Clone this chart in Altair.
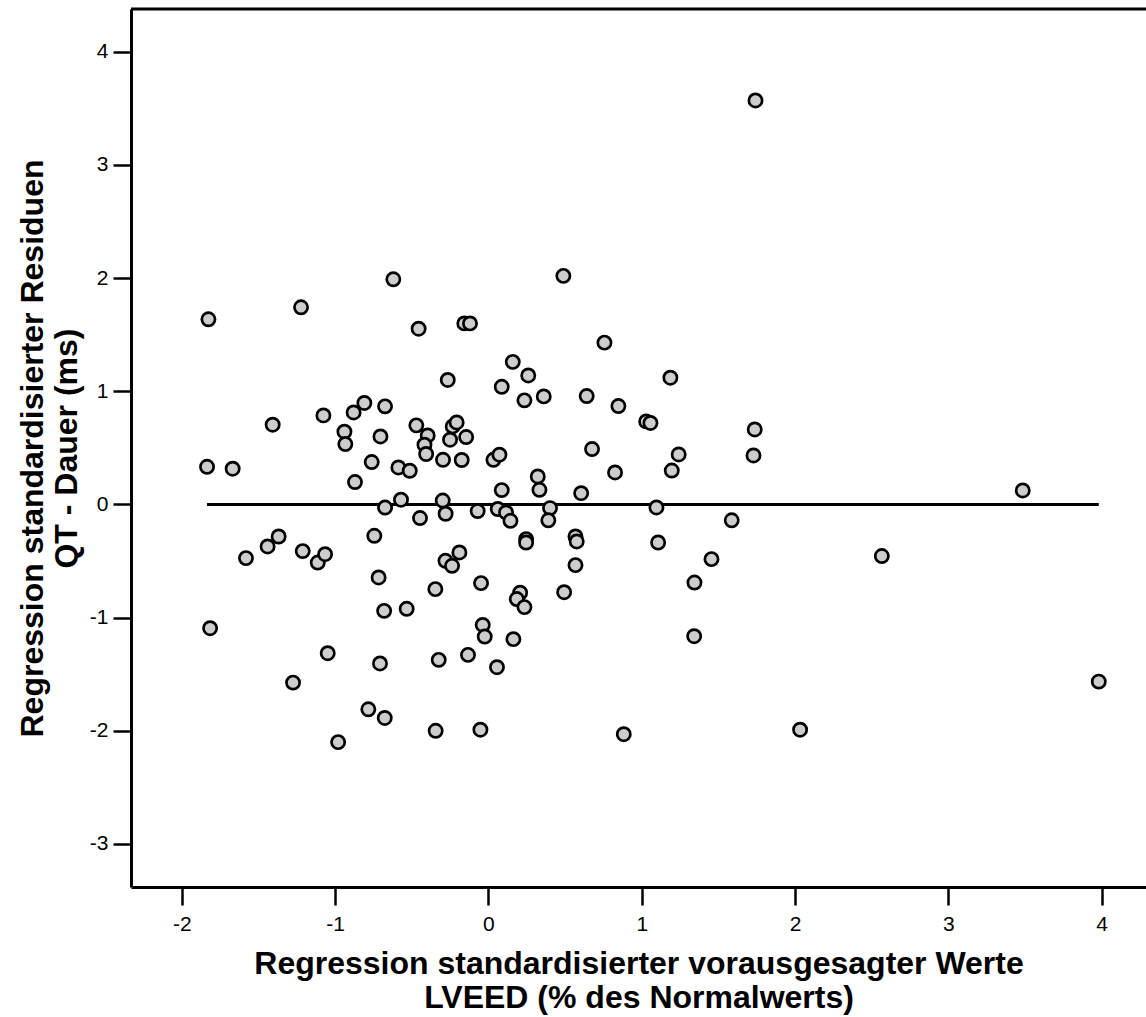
import altair as alt
import pandas as pd

# Standardized predicted values (x) and standardized residuals (y)
predicted = [
    1.742, 0.489, -0.620, -1.222, -1.826, -0.455, -0.157, -0.120, 0.757, 0.159,
    0.260, 1.187, -0.265, 0.087, 0.235, 0.361, 0.641, 0.848, 1.029, 1.057,
    1.737, 1.729, 1.241, 1.196, 0.676, 0.826, 0.322, 0.333, 0.605, 0.402,
    1.096, 0.391, 1.587, 0.246, 0.246, 0.568, 0.576, 1.107, 2.566, 0.568,
    1.455, 1.344, 3.485, 0.207, 0.185, 0.235, 0.494, 0.163, 1.342, 0.056,
    0.883, 2.033, 3.981, -1.581, -1.113, -1.065, -0.280, -0.237, -0.189, -0.716,
    -0.346, -0.048, -0.680, -0.533, -1.815, -0.037, -0.024, -1.048, -0.324, -0.133,
    -0.707, -1.274, -0.783, -0.676, -0.980, -0.344, -0.052, -0.809, -0.879, -0.674,
    -1.076, -1.407, -0.470, -0.233, -0.207, -0.939, -0.933, -0.704, -0.396, -0.417,
    -0.406, -0.250, -0.145, -0.761, -0.587, -0.513, -0.296, -0.174, 0.033, 0.072,
    -1.835, -1.668, -0.870, 0.087, -0.570, -0.298, -0.674, -0.279, -0.070, 0.061,
    0.115, 0.144, -0.446, -0.744, -1.368, -1.440, -1.211,
]
residual = [
    3.570, 2.020, 1.990, 1.742, 1.636, 1.553, 1.600, 1.600, 1.430, 1.260,
    1.140, 1.120, 1.100, 1.040, 0.920, 0.955, 0.958, 0.870, 0.734, 0.720,
    0.663, 0.433, 0.442, 0.300, 0.490, 0.283, 0.248, 0.130, 0.100, -0.032,
    -0.026, -0.140, -0.140, -0.306, -0.336, -0.283, -0.327, -0.336, -0.456, -0.536,
    -0.483, -0.690, 0.124, -0.780, -0.836, -0.907, -0.775, -1.190, -1.164, -1.438,
    -2.030, -1.990, -1.565, -0.474, -0.513, -0.439, -0.498, -0.542, -0.424, -0.645,
    -0.748, -0.695, -0.940, -0.922, -1.093, -1.064, -1.167, -1.314, -1.373, -1.329,
    -1.405, -1.574, -1.810, -1.886, -2.100, -2.000, -1.990, 0.897, 0.813, 0.867,
    0.787, 0.705, 0.699, 0.690, 0.725, 0.643, 0.534, 0.601, 0.610, 0.528,
    0.446, 0.572, 0.596, 0.375, 0.327, 0.298, 0.395, 0.393, 0.395, 0.440,
    0.333, 0.316, 0.198, 0.127, 0.042, 0.035, -0.027, -0.082, -0.058, -0.040,
    -0.070, -0.144, -0.120, -0.277, -0.283, -0.371, -0.412,
]
x_ticks = [-2, -1, 0, 1, 2, 3, 4]
y_ticks = [-3, -2, -1, 0, 1, 2, 3, 4]
x_title = ["Regression standardisierter vorausgesagter Werte", "LVEED (% des Normalwerts)"]
y_title = ["Regression standardisierter Residuen", "QT - Dauer (ms)"]

df = pd.DataFrame({"pred": predicted, "resid": residual})

W, H = 1015, 878
FONT = "Liberation Sans, Arial, Helvetica, sans-serif"

xscale = alt.Scale(domain=[-2.331, 4.289], nice=False, zero=False)
yscale = alt.Scale(domain=[-3.38, 4.378], nice=False, zero=False)

x_axis = alt.Axis(values=x_ticks, title=x_title, labelPadding=8, titlePadding=14,
                  labelExpr="datum.value + ''")
y_axis = alt.Axis(values=y_ticks, title=y_title, labelPadding=5, titlePadding=6,
                  labelExpr="datum.value + ''")

zero_line = (
    alt.Chart(df)
    .transform_aggregate(xmin="min(pred)", xmax="max(pred)")
    .transform_calculate(zero="0")
    .mark_rule(color="black", strokeWidth=3)
    .encode(
        x=alt.X("xmin:Q", scale=xscale, axis=x_axis),
        x2="xmax:Q",
        y=alt.Y("zero:Q", scale=yscale, axis=y_axis),
    )
)

points = (
    alt.Chart(df)
    .mark_circle(color="#cdcdcd", stroke="black", strokeWidth=2.7, size=175, opacity=1)
    .encode(
        x=alt.X("pred:Q", scale=xscale, axis=x_axis),
        y=alt.Y("resid:Q", scale=yscale, axis=y_axis),
    )
)

top_border = (
    alt.Chart(pd.DataFrame({"k": [0]}))
    .mark_rule(color="black", strokeWidth=3)
    .encode(x=alt.value(0), x2=alt.value(W), y=alt.value(0))
)

chart = (
    alt.layer(zero_line, points, top_border)
    .properties(
        width=W,
        height=H,
        autosize=alt.AutoSizeParams(type="none"),
        padding={"left": 131, "top": 9, "right": 0, "bottom": 1017 - 9 - H},
        background="white",
    )
    .configure_view(strokeWidth=0)
    .configure_axis(
        grid=False,
        domainColor="black",
        domainWidth=3,
        tickColor="black",
        tickWidth=2.5,
        tickSize=18,
        labelFont=FONT,
        labelFontSize=21,
        labelColor="black",
        titleFont=FONT,
        titleFontSize=32,
        titleFontWeight="bold",
        titleColor="black",
        titleLineHeight=34,
    )
)

chart.save("out.html", embed_options={"renderer": "svg", "actions": False})
